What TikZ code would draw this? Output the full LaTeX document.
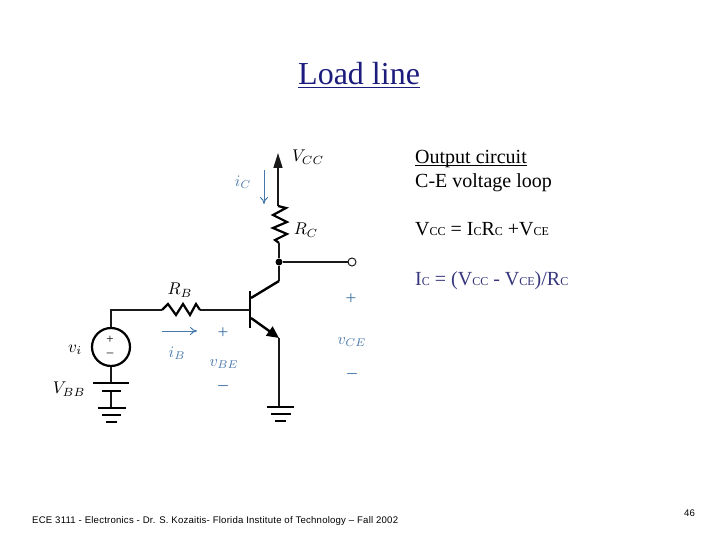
\documentclass[tikz,border=0pt]{standalone}
\usepackage{fontspec}
\setmainfont{Liberation Serif}
\newfontfamily\footfont[LetterSpace=2.2]{Liberation Sans}
\newfontfamily\numfont{Liberation Sans}
\usetikzlibrary{arrows.meta}
\definecolor{titleblue}{RGB}{28,28,125}
\definecolor{curblue}{RGB}{70,120,170}
\definecolor{eqblue}{RGB}{55,55,125}
\definecolor{wirec}{RGB}{25,25,25}
\newcommand{\sm}[1]{{\fontsize{12}{12}\selectfont #1}}
\tikzset{
 x=1pt,y=-1pt,
 wire/.style={draw=wirec,line width=1.2pt},
 thick wire/.style={draw=black,line width=2.2pt,line join=miter},
 plate/.style={draw=black,line width=2.4pt},
 lab/.style={inner sep=0pt,scale=1.7,text=black},
 blab/.style={inner sep=0pt,scale=1.6,text=curblue},
 bsign/.style={inner sep=0pt,text=curblue,font=\fontsize{19}{19}\selectfont},
 ssign/.style={inner sep=0pt,font=\fontsize{13}{13}\selectfont},
 txt/.style={anchor=base west,inner sep=0pt,font=\fontsize{20}{20}\selectfont},
 curr/.style={draw=curblue,line width=1pt,-{To[length=7pt,width=8pt]}},
 term/.style={circle,draw=wirec,fill=white,line width=1pt,inner sep=0pt,minimum size=8pt},
 junction/.style={circle,fill=black,inner sep=0pt,minimum size=7pt},
 source/.style={circle,draw=black,line width=2.2pt,fill=white,inner sep=0pt,minimum size=38pt},
}
\begin{document}
\begin{tikzpicture}
\useasboundingbox (0,0) rectangle (720,540);
\fill[white] (0,0) rectangle (720,540);
% title and text
\node[txt,text=titleblue,font=\fontsize{32}{32}\selectfont] (title) at (298,85) {\underline{Load line}};
\node[txt] (t1) at (415,164) {Output circuit};
\draw[line width=1pt] ([yshift=-2pt]t1.base west) -- ([yshift=-2pt]t1.base east);
\node[txt] (t2) at (415,188) {C-E voltage loop};
\node[txt] (t3) at (415,236) {V\sm{CC} = I\sm{C}R\sm{C} +V\sm{CE}};
\node[txt,text=eqblue] (t4) at (415,285) {I\sm{C} = (V\sm{CC} - V\sm{CE})/R\sm{C}};
\node[anchor=base west,inner sep=0pt,font=\footfont\fontsize{9.6}{10}\selectfont] (foot) at (32,523) {ECE 3111 - Electronics - Dr. S. Kozaitis- Florida Institute of Technology – Fall 2002};
\node[anchor=base west,inner sep=0pt,font=\numfont\fontsize{9.6}{10}\selectfont] (pg) at (684,516) {46};
% coordinates
\coordinate (vcc) at (278,153);
\coordinate (rct) at (278,206);
\coordinate (rcb) at (279,243);
\node[junction] (j) at (279,262) {};
\node[term] (out) at (352,262) {};
\coordinate (cbend) at (279,281);
\coordinate (cbar) at (251,298);
\coordinate (bt) at (250,291);
\coordinate (bb) at (250,328);
\coordinate (bm) at (250,310);
\coordinate (ebar) at (251,318);
\coordinate (etip) at (279,338);
\coordinate (g2) at (279,407);
\coordinate (rbr) at (200,310);
\coordinate (rbl) at (162,310);
\coordinate (corner) at (111,310);
\node[source] (vi) at (111,347) {};
\coordinate (p1) at (111,383);
\coordinate (p2) at (111,391);
\coordinate (g1) at (111,408);
% wires
\draw[wire,line width=1.5pt,-{Triangle[length=15pt,width=9pt]}] (rct) -- (vcc);
\draw[thick wire] (rct) -- (286,208) -- (273,215) -- (287,222) -- (273,228) -- (287,234) -- (275,240) -- (rcb);
\draw[wire] (rcb) -- (j);
\draw[wire] (j) -- (out);
\draw[wire] (j) -- (cbend);
\draw[thick wire,line width=2.4pt] (cbend) -- (cbar);
\draw[thick wire,line width=2.8pt] (bt) -- (bb);
\draw[wire] (bm) -- (rbr);
\draw[thick wire] (rbr) -- (196,304) -- (190,315) -- (183,304) -- (176,315) -- (168,304) -- (rbl);
\draw[wire] (rbl) -- (corner) -- (vi.north);
\draw[thick wire,line width=2.4pt,-{Triangle[length=12pt,width=11pt]}] (ebar) -- (etip);
\draw[wire] (etip) -- (g2);
\draw[wire] (vi.south) -- (p1);
\draw[wire] (p2) -- (g1);
% battery and grounds
\draw[plate] (93,383) -- (129,383);
\draw[plate] (102,391) -- (121,391);
\draw[plate] (98,408) -- (126,408);
\draw[plate] (102,415) -- (121,415);
\draw[plate] (106,422) -- (117,422);
\draw[plate] (267,407) -- (294,407);
\draw[plate] (271,414) -- (291,414);
\draw[plate] (275,421) -- (286,421);
% source signs
\node[ssign] (sp) at (110,339.5) {+};
\node[ssign] (sm) at (110,355) {--};
% currents
\coordinate (ic1) at (264,170); \coordinate (ic2) at (264,204);
\coordinate (ib1) at (162,331); \coordinate (ib2) at (197,331);
\draw[curr] (ic1) -- (ic2);
\draw[curr] (ib1) -- (ib2);
% labels
\node[lab] (lvcc) at (308,157) {$V_{CC}$};
\node[lab] (lrc) at (306,230) {$R_C$};
\node[lab] (lrb) at (180,290) {$R_B$};
\node[lab] (lvi) at (75,350) {$v_i$};
\node[lab] (lvbb) at (69,389) {$V_{BB}$};
\node[blab] (lic) at (243,182) {$i_C$};
\node[blab] (lib) at (177,353) {$i_B$};
\node[blab] (lvbe) at (224,364) {$v_{BE}$};
\node[blab] (lvce) at (352,342) {$v_{CE}$};
\node[bsign] (bp) at (223,333) {+};
\node[bsign] (bm2) at (223,388) {--};
\node[bsign] (cp) at (351,299) {+};
\node[bsign] (cm) at (352,376) {--};
\end{tikzpicture}
\end{document}
